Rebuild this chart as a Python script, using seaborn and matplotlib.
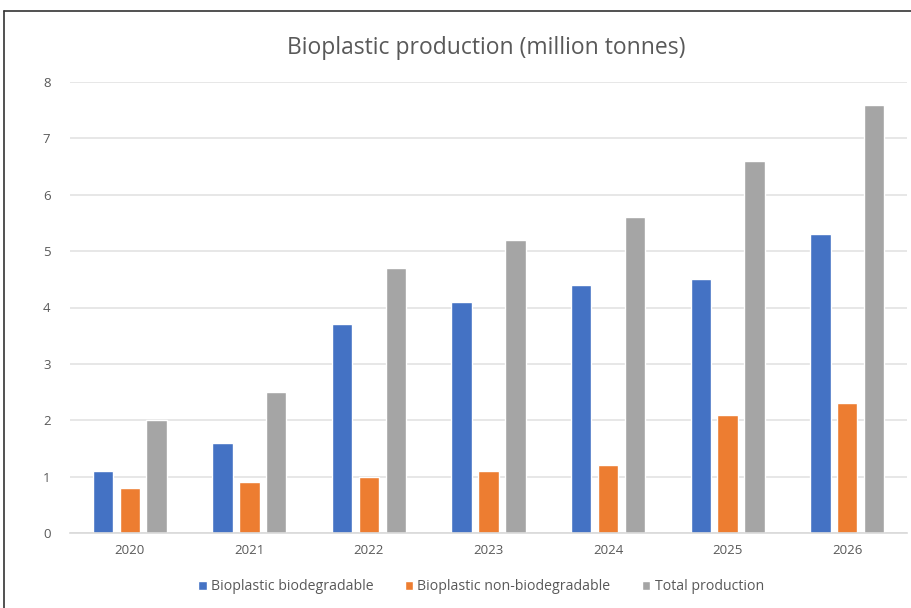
import matplotlib
matplotlib.use("Agg")
import matplotlib.pyplot as plt
from matplotlib.lines import Line2D
import pandas as pd
import seaborn as sns

years = ["2020", "2021", "2022", "2023", "2024", "2025", "2026"]
biodegradable = [1.1, 1.6, 3.7, 4.1, 4.4, 4.5, 5.3]
non_biodegradable = [0.8, 0.9, 1.0, 1.1, 1.2, 2.1, 2.3]
total_production = [2.0, 2.5, 4.7, 5.2, 5.6, 6.6, 7.6]
series_names = ["Bioplastic biodegradable", "Bioplastic non-biodegradable", "Total production"]
colors = ["#4472C4", "#ED7D31", "#A5A5A5"]

df = pd.DataFrame({
    "Year": years * 3,
    "Value": biodegradable + non_biodegradable + total_production,
    "Series": [s for s in series_names for _ in years],
})

sns.set_theme(style="white")
plt.rcParams["font.family"] = ["Open Sans", "DejaVu Sans"]

W, H = 911, 608
fig = plt.figure(figsize=(W / 100, H / 100), dpi=100)
ax = fig.add_axes([70 / W, 1 - 533 / H, (907 - 70) / W, (533 - 82) / H])

sns.barplot(data=df, x="Year", y="Value", hue="Series", palette=colors,
            width=0.675, gap=0.24, ax=ax, saturation=1, legend=True)

ax.set_ylim(0, 8)
ax.set_xlim(-0.5, len(years) - 0.5)
ax.set_yticks(range(0, 9))
ax.yaxis.grid(True, color="#E3E3E3", linewidth=1.2)
ax.set_axisbelow(True)
for side in ["top", "right", "left"]:
    ax.spines[side].set_visible(False)
ax.spines["bottom"].set_color("#D9D9D9")
ax.spines["bottom"].set_linewidth(1.2)
ax.set_xlabel("")
ax.set_ylabel("")
ax.tick_params(axis="both", length=0, colors="#595959", labelsize=9.5)
ax.tick_params(axis="y", pad=14)
ax.tick_params(axis="x", pad=8)

fig.text(486 / W, 1 - 48 / H, "Bioplastic production (million tonnes)",
         ha="center", va="center", fontsize=16.5, color="#595959")

handles, labels = ax.get_legend_handles_labels()
ax.legend_.remove()
fig.legend(handles, labels, loc="center", bbox_to_anchor=(481 / W, 1 - 587 / H),
           ncol=3, frameon=False, fontsize=10.2, handlelength=0.6, handleheight=0.6,
           handletextpad=0.3, columnspacing=2.2, labelcolor="#595959")

# outer frame lines (left and top)
fig.add_artist(Line2D([4 / W, 4 / W], [0, 1 - 11 / H], color="#333333", linewidth=1.2))
fig.add_artist(Line2D([4 / W, 1], [1 - 11 / H, 1 - 11 / H], color="#333333", linewidth=1.2))

fig.savefig("out.png", dpi=100)
